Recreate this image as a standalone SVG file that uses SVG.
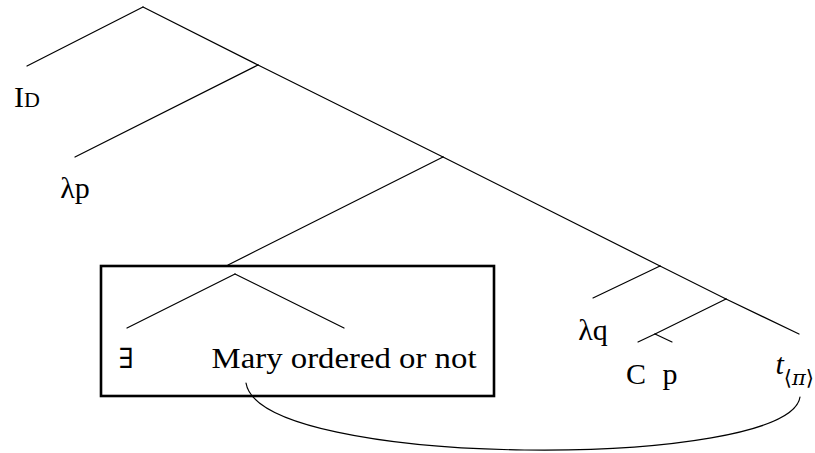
<svg xmlns="http://www.w3.org/2000/svg" width="815" height="453" viewBox="0 0 815 453">
  <style>
    .edge { stroke: #000; stroke-width: 1.2; fill: none; stroke-linecap: round; }
    .lbl { font-family: "Liberation Serif", "DejaVu Serif", serif; font-size: 30px; fill: #000; text-anchor: middle; }
    .sym { font-family: "DejaVu Serif", serif; font-size: 28px; fill: #000; text-anchor: middle; }
    .box { fill: none; stroke: #000; stroke-width: 2.6; }
  </style>
  <rect width="815" height="453" fill="#fff"/>

  <!-- tree edges -->
  <g id="edges">
    <line class="edge" x1="143" y1="7" x2="27" y2="66"/>
    <line class="edge" x1="143" y1="7" x2="258" y2="65"/>
    <line class="edge" x1="258" y1="65" x2="75" y2="157"/>
    <line class="edge" x1="258" y1="65" x2="443" y2="157"/>
    <line class="edge" x1="443" y1="157" x2="228" y2="265"/>
    <line class="edge" x1="443" y1="157" x2="660" y2="266"/>
    <line class="edge" x1="660" y1="266" x2="593" y2="298"/>
    <line class="edge" x1="660" y1="266" x2="726" y2="299"/>
    <line class="edge" x1="726" y1="299" x2="799" y2="334"/>
    <line class="edge" x1="726" y1="299" x2="655" y2="334"/>
    <line class="edge" x1="655" y1="334" x2="638" y2="342"/>
    <line class="edge" x1="655" y1="334" x2="672" y2="342"/>
    <!-- movement link from the boxed clause to its trace -->
    <path class="edge" d="M246,383 C260,470 790,470 800,397"/>
  </g>

  <g id="node-id">
    <text class="lbl" x="27" y="107">I<tspan font-size="22">D</tspan></text>
  </g>
  <g id="node-lambda-p">
    <text class="lbl" x="75" y="198">λp</text>
  </g>

  <!-- boxed subtree -->
  <g id="node-box">
    <rect class="box" x="101" y="266" width="393" height="130"/>
    <line class="edge" x1="235" y1="274" x2="127" y2="328"/>
    <line class="edge" x1="235" y1="274" x2="344" y2="328"/>
  </g>
  <g id="node-exists">
    <text class="sym" x="126" y="368">∃</text>
  </g>
  <g id="node-mary">
    <text class="lbl" x="344" y="368" textLength="265" lengthAdjust="spacingAndGlyphs">Mary ordered or not</text>
  </g>

  <g id="node-lambda-q">
    <text class="lbl" x="593" y="340">λq</text>
  </g>
  <g id="node-c">
    <text class="lbl" x="636" y="384">C</text>
  </g>
  <g id="node-p">
    <text class="lbl" x="670" y="384">p</text>
  </g>
  <g id="node-trace">
    <text class="lbl" x="814" y="374" style="text-anchor:end"><tspan font-style="italic">t</tspan><tspan font-family="DejaVu Serif, serif" font-size="21" dy="11">⟨<tspan font-style="italic">π</tspan>⟩</tspan></text>
  </g>
</svg>
